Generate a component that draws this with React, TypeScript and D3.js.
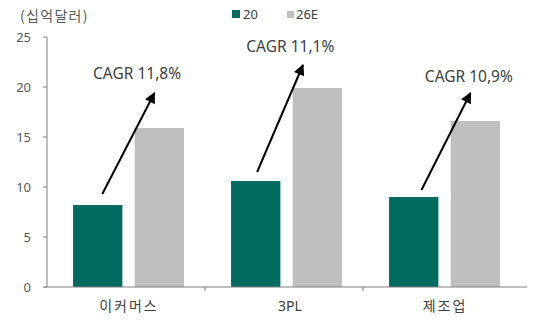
import React from "react";
import * as d3 from "d3";

const categories = ["이커머스", "3PL", "제조업"];
const seriesNames = ["20", "26E"];
const values20 = [8.2, 10.6, 9.0];
const values26E = [15.9, 19.9, 16.6];
const cagrLabels = ["CAGR 11,8%", "CAGR 11,1%", "CAGR 10,9%"];
const yTicks = [0, 5, 10, 15, 20, 25];
// arrow annotation endpoints: [value at start, value at end]
const arrowStartVal = [9.3, 11.5, 9.7];
const arrowEndVal = [19.4, 22.2, 19.4];
const labelVal = [20.8, 23.5, 20.5];

const W = 535;
const H = 322;
const colors = ["#006B5E", "#BFBFBF"];
const font = "'Noto Sans CJK KR', 'Noto Sans', sans-serif";
const latin = "'Noto Sans', sans-serif";

export default function App() {
  const x0 = d3.scaleBand<string>().domain(categories).range([47, 521]).padding(0);
  const bw = x0.bandwidth();
  const x1 = d3.scaleBand<string>().domain(seriesNames).range([bw * 0.165, bw * 0.867]).paddingInner(0.2).paddingOuter(0);
  const y = d3.scaleLinear().domain([0, 25]).range([287, 37]);

  // fractional x offsets within band for arrows/labels
  const arrowStartFx = [0.35, 0.33, 0.37];
  const arrowEndFx = [0.68, 0.62, 0.68];
  const labelFx = [0.57, 0.54, 0.67];

  return (
    <svg width={W} height={H} style={{ position: "absolute", left: 0, top: 0, background: "#fff" }} fontFamily={font}>
      <defs>
        <marker id="ah" viewBox="0 0 10 10" refX="9" refY="5" markerWidth="6" markerHeight="5.5" orient="auto" markerUnits="strokeWidth">
          <path d="M0,0 L10,5 L0,10 z" fill="#000" />
        </marker>
      </defs>
      {/* unit label */}
      <text x={20} y={21} fontSize={14} letterSpacing={1.3} fill="#595959">(십억달러)</text>
      {/* legend */}
      <rect x={232} y={10} width={8} height={8} fill={colors[0]} />
      <text x={243} y={19} fontSize={13} fontFamily={latin} fill="#404040">20</text>
      <rect x={287} y={11} width={7} height={7} fill={colors[1]} />
      <text x={296} y={19} fontSize={13} fontFamily={latin} fill="#404040">26E</text>

      {/* y axis */}
      <line x1={47} x2={47} y1={y(0)} y2={y(25)} stroke="#7f7f7f" strokeWidth={1} />
      {yTicks.map((t) => (
        <g key={t}>
          <line x1={43} x2={47} y1={y(t)} y2={y(t)} stroke="#7f7f7f" />
          <text x={31} y={y(t) + 4.5} fontSize={13} fontFamily={latin} fill="#595959" textAnchor="end">{t}</text>
        </g>
      ))}

      {/* bars */}
      {categories.map((c, i) => (
        <g key={c}>
          {[values20[i], values26E[i]].map((v, j) => (
            <rect key={j} x={(x0(c) as number) + (x1(seriesNames[j]) as number)} y={y(v)} width={x1.bandwidth()} height={y(0) - y(v)} fill={colors[j]} />
          ))}
        </g>
      ))}

      {/* x axis */}
      <line x1={44} x2={527} y1={y(0)} y2={y(0)} stroke="#7f7f7f" />
      {categories.map((c, i) => {
        const korean = /[\uAC00-\uD7A3]/.test(c);
        return (
          <g key={c}>
            {i > 0 && <line x1={x0(c)} x2={x0(c)} y1={y(0)} y2={y(0) + 4} stroke="#7f7f7f" />}
            <text
              x={(x0(c) as number) + bw / 2 + (korean ? 3 : 6)}
              y={311}
              fontSize={14}
              letterSpacing={korean ? 2 : 0}
              fontFamily={korean ? font : latin}
              fill="#404040"
              textAnchor="middle"
            >
              {c}
            </text>
          </g>
        );
      })}

      {/* arrows and labels */}
      {categories.map((c, i) => {
        const bx = x0(c) as number;
        return (
          <g key={c}>
            <line x1={bx + bw * arrowStartFx[i]} y1={y(arrowStartVal[i])} x2={bx + bw * arrowEndFx[i]} y2={y(arrowEndVal[i])} stroke="#000" strokeWidth={2} markerEnd="url(#ah)" />
            <text x={bx + bw * labelFx[i]} y={y(labelVal[i])} fontSize={15.5} fontFamily={latin} fill="#404040" textAnchor="middle">{cagrLabels[i]}</text>
          </g>
        );
      })}
    </svg>
  );
}
